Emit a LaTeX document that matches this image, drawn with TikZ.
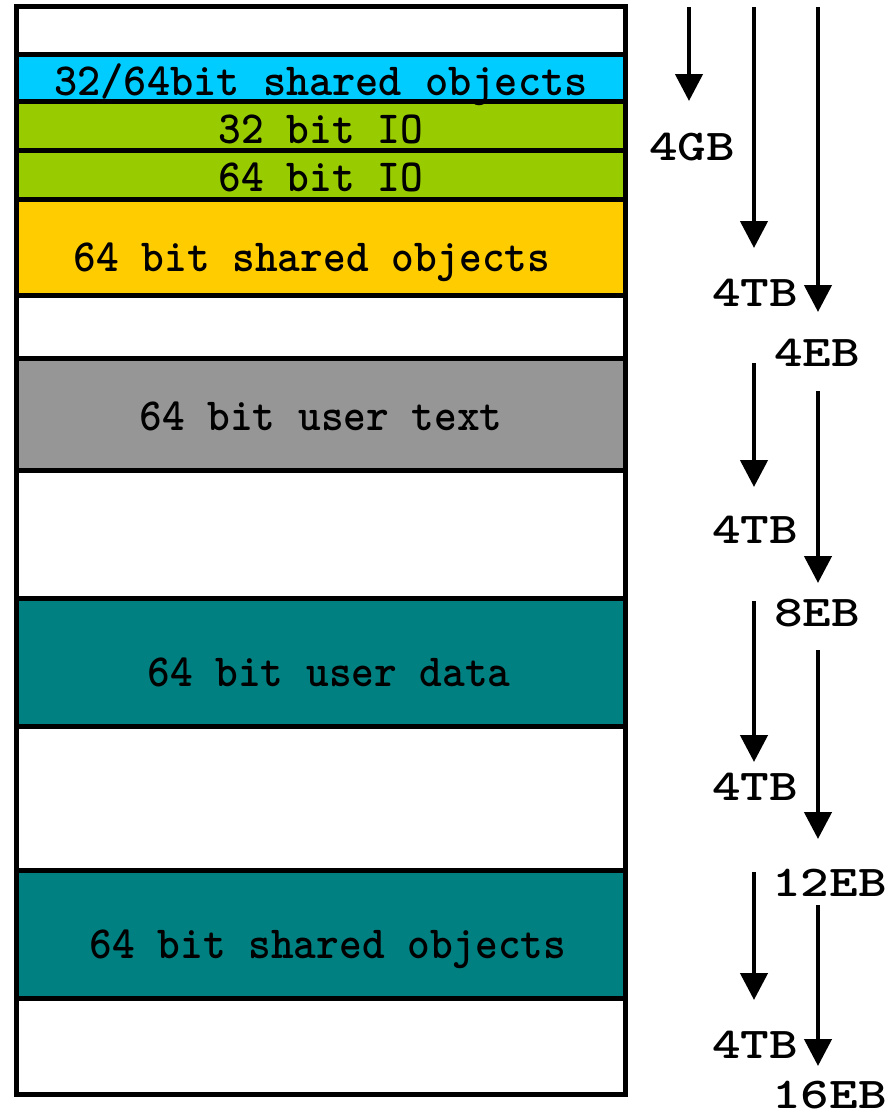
\documentclass[tikz,border=0pt]{standalone}
\usetikzlibrary{arrows.meta,fit}
\definecolor{segcyan}{HTML}{00CCFF}
\definecolor{seggreen}{HTML}{99CC00}
\definecolor{segorange}{HTML}{FFCC00}
\definecolor{seggray}{HTML}{969696}
\definecolor{segteal}{HTML}{008080}
% typewriter lettering, widened or narrowed to the column widths
\newcommand{\segtext}[1]{\scalebox{0.94}[1]{#1}}
\newcommand{\addrtext}[1]{\scalebox{1.24}[1]{#1}}
\begin{document}
\begin{tikzpicture}[x=1pt,y=-1pt,
  seg/.style={draw=black,line width=5pt,inner sep=0pt,outer sep=0pt},
  segname/.style={anchor=base,inner sep=0pt,
    font=\ttfamily\bfseries\fontsize{46}{46}\selectfont},
  addr/.style={inner sep=0pt,
    font=\ttfamily\bfseries\fontsize{44}{44}\selectfont},
  down/.style={line width=4.5pt,-{Triangle[length=27pt,width=27pt]}}]
\useasboundingbox[fill=white] (0,0) rectangle (890,1120);

% address space column
\fill[white] (16,6) rectangle (625.5,1094.5);
\node[seg,fill=segcyan,  fit={(16,54.5) (625.5,101.5)}] (shared32) {};
\node[seg,fill=seggreen, fit={(16,101.5) (625.5,150)}]  (io32) {};
\node[seg,fill=seggreen, fit={(16,150) (625.5,199.5)}]  (io64) {};
\node[seg,fill=segorange,fit={(16,199.5) (625.5,295)}]  (sharedlow) {};
\node[seg,fill=seggray,  fit={(16,358.5) (625.5,470.5)}] (utext) {};
\node[seg,fill=segteal,  fit={(16,598.5) (625.5,726.5)}] (udata) {};
\node[seg,fill=segteal,  fit={(16,870.5) (625.5,998.5)}] (sharedhigh) {};
\node[seg,fit={(16,6) (625.5,1094.5)}] (space) {};

\node[segname] (t1) at (321,95)  {\scalebox{0.96}[1]{32/64bit shared objects}};
\node[segname] (t2) at (321,143) {\segtext{32 bit IO}};
\node[segname] (t3) at (321,191) {\segtext{64 bit IO}};
\node[segname] (t4) at (312,271) {\segtext{64 bit shared objects}};
\node[segname] (t5) at (321,430) {\segtext{64 bit user text}};
\node[segname] (t6) at (329,686) {\segtext{64 bit user data}};
\node[segname] (t7) at (328,958) {\segtext{64 bit shared objects}};

% size arrows: 4GB column
\coordinate (a0) at (689,7);
\coordinate (a1) at (689,101);
\draw[down] (a0) -- (a1);
\node[addr] (gb4) at (692,147) {\addrtext{4GB}};

% 4TB column
\coordinate (b0) at (754,7);    \coordinate (b1) at (754,248);
\coordinate (b2) at (754,363);  \coordinate (b3) at (754,487);
\coordinate (b4) at (754,601);  \coordinate (b5) at (754,762);
\coordinate (b6) at (754,872);  \coordinate (b7) at (754,1000);
\draw[down] (b0) -- (b1);
\draw[down] (b2) -- (b3);
\draw[down] (b4) -- (b5);
\draw[down] (b6) -- (b7);
\node[addr] (tb1) at (755,293)  {\addrtext{4TB}};
\node[addr] (tb2) at (755,530)  {\addrtext{4TB}};
\node[addr] (tb3) at (755,787)  {\addrtext{4TB}};
\node[addr] (tb4) at (755,1045) {\addrtext{4TB}};

% EB column
\coordinate (c0) at (818,7);    \coordinate (c1) at (818,312);
\coordinate (c2) at (818,391);  \coordinate (c3) at (818,583);
\coordinate (c4) at (818,650);  \coordinate (c5) at (818,839);
\coordinate (c6) at (818,905);  \coordinate (c7) at (818,1066);
\draw[down] (c0) -- (c1);
\draw[down] (c2) -- (c3);
\draw[down] (c4) -- (c5);
\draw[down] (c6) -- (c7);
\node[addr,anchor=west] (eb4)  at (774,353)  {\addrtext{4EB}};
\node[addr,anchor=west] (eb8)  at (774,613)  {\addrtext{8EB}};
\node[addr,anchor=west] (eb12) at (772,883)  {\addrtext{12EB}};
\node[addr,anchor=west] (eb16) at (772,1095) {\addrtext{16EB}};
\end{tikzpicture}
\end{document}
